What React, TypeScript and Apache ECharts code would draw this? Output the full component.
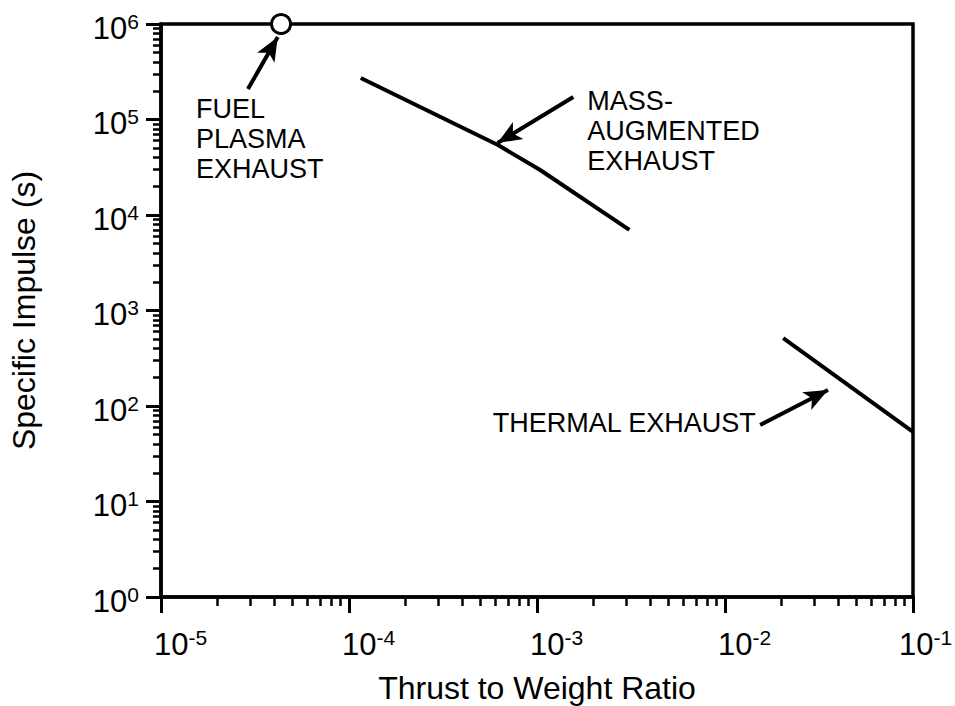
import React, { useEffect, useRef } from 'react';
import * as echarts from 'echarts';

const FONT = "'Liberation Sans', Arial, Helvetica, sans-serif";

// Axis ticks (major decades) and minor multipliers
const xMajorTicks = [1e-5, 1e-4, 1e-3, 1e-2, 1e-1];
const yMajorTicks = [1, 10, 100, 1e3, 1e4, 1e5, 1e6];
const minorMultipliers = [2, 3, 4, 5, 6, 7, 8, 9];

// Series values
const fuelPlasmaPoint = [[4.35e-5, 1e6]];
const massAugmentedLine = [
  [1.155e-4, 2.72e5],
  [6.2e-4, 5.4e4],
  [1.04e-3, 2.96e4],
  [3.1e-3, 7.0e3],
];
const thermalLine = [
  [0.0204, 515],
  [0.1, 53.5],
];

// Annotations (data coordinates)
const annotationTexts = ['FUEL\nPLASMA\nEXHAUST', 'MASS-\nAUGMENTED\nEXHAUST', 'THERMAL EXHAUST'];
const annotationAnchors = [
  [1.535e-5, 1.85e5],
  [1.853e-3, 2.24e5],
  [5.81e-4, 95.3],
];
const arrowTails = [
  [2.9e-5, 2.09e5],
  [1.56e-3, 1.72e5],
  [0.01538, 63.2],
];
const arrowHeads = [
  [4.18e-5, 7.3e5],
  [6.17e-4, 5.68e4],
  [0.0353, 147],
];

function minorValues(majors: number[]) {
  const out: number[] = [];
  for (let i = 0; i < majors.length - 1; i++) {
    for (const m of minorMultipliers) out.push(m * majors[i]);
  }
  return out;
}

const expOf = (v: number) => Math.round(Math.log10(v));

const richStyles = {
  b: { fontSize: 31, fontFamily: FONT, color: '#000', lineHeight: 30, padding: [8, 0, 0, 0] },
  s: { fontSize: 21, fontFamily: FONT, color: '#000', lineHeight: 20, padding: [0, 0, 6, 0] },
  pad: { width: 39 },
  padEnd: { width: 25 },
};

export default function App() {
  const ref = useRef<HTMLDivElement>(null);
  useEffect(() => {
    if (!ref.current) return;
    const chart = echarts.init(ref.current, undefined, { renderer: 'svg' });
    const grid = {
      left: 161, right: 42, top: 24, bottom: 109,
      containLabel: false, outerBoundsMode: 'none',
      show: true, borderColor: '#000', borderWidth: 3.5, backgroundColor: 'transparent',
    };
    const xMinor = minorValues(xMajorTicks);
    const yMinor = minorValues(yMajorTicks);
    const lastX = xMajorTicks[xMajorTicks.length - 1];
    const option: any = {
      animation: false,
      backgroundColor: '#fff',
      grid,
      xAxis: [
        {
          type: 'log', logBase: 10, min: 1e-5, max: 1e-1, position: 'bottom',
          name: 'Thrust to Weight Ratio', nameLocation: 'middle', nameGap: 75,
          nameTextStyle: { fontSize: 32, fontFamily: FONT, color: '#000' },
          axisLine: { show: true, lineStyle: { color: '#000', width: 3.5 } },
          axisTick: { show: true, length: 16, customValues: xMajorTicks, lineStyle: { color: '#000', width: 3 } },
          axisLabel: {
            show: true, margin: 28, customValues: xMajorTicks,
            formatter: (v: number) =>
              expOf(v) === expOf(lastX)
                ? `{padEnd|}{b|10}{s|${expOf(v)}}`
                : `{pad|}{b|10}{s|${expOf(v)}}`,
            rich: richStyles,
          },
          splitLine: { show: false },
        },
        {
          type: 'log', logBase: 10, min: 1e-5, max: 1e-1, position: 'bottom',
          axisLine: { show: false },
          axisTick: { show: true, length: 9, customValues: xMinor, lineStyle: { color: '#000', width: 2.5 } },
          axisLabel: { show: false },
          splitLine: { show: false },
        },
      ],
      yAxis: [
        {
          type: 'log', logBase: 10, min: 1, max: 1e6, position: 'left',
          name: 'Specific Impulse (s)', nameLocation: 'middle', nameGap: 121,
          nameTextStyle: { fontSize: 32, fontFamily: FONT, color: '#000' },
          axisLine: { show: true, lineStyle: { color: '#000', width: 3.5 } },
          axisTick: { show: true, length: 15, customValues: yMajorTicks, lineStyle: { color: '#000', width: 3 } },
          axisLabel: {
            show: true, margin: 22, customValues: yMajorTicks,
            formatter: (v: number) => `{b|10}{s|${expOf(v)}}`,
            rich: richStyles,
          },
          splitLine: { show: false },
        },
        {
          type: 'log', logBase: 10, min: 1, max: 1e6, position: 'left',
          axisLine: { show: false },
          axisTick: { show: true, length: 8, customValues: yMinor, lineStyle: { color: '#000', width: 2.5 } },
          axisLabel: { show: false },
          splitLine: { show: false },
        },
      ],
      series: [
        {
          type: 'line', name: 'Mass-augmented exhaust', data: massAugmentedLine,
          xAxisIndex: 0, yAxisIndex: 0, showSymbol: false, symbol: 'none',
          lineStyle: { color: '#000', width: 4 }, silent: true,
          markLine: {
            silent: true, animation: false,
            symbol: ['none', 'arrow'], symbolSize: [15, 24],
            lineStyle: { color: '#000', width: 4, type: 'solid' },
            label: { show: false },
            emphasis: { disabled: true },
            data: arrowTails.map((t, i) => [{ coord: t }, { coord: arrowHeads[i] }]),
          },
        },
        {
          type: 'line', name: 'Thermal exhaust', data: thermalLine,
          xAxisIndex: 0, yAxisIndex: 0, showSymbol: false, symbol: 'none',
          lineStyle: { color: '#000', width: 4 }, silent: true,
        },
        {
          type: 'scatter', name: 'Fuel plasma exhaust', data: fuelPlasmaPoint,
          xAxisIndex: 0, yAxisIndex: 0, symbol: 'circle', symbolSize: 19, clip: false, z: 10,
          itemStyle: { color: '#ffffff', opacity: 1, borderColor: '#000', borderWidth: 3 }, silent: true,
        },
      ],
    };
    chart.setOption(option);
    const graphic: any[] = annotationTexts.map((text, i) => {
      const p = chart.convertToPixel({ seriesIndex: 0 }, annotationAnchors[i]) as number[];
      return {
        type: 'text', x: p[0], y: p[1], silent: true,
        style: { text, fontSize: 27, fontFamily: FONT, fill: '#000', lineHeight: 30, align: 'left', verticalAlign: 'top' },
      };
    });
    chart.setOption({ graphic });
    return () => chart.dispose();
  }, []);
  return <div ref={ref} style={{ position: 'fixed', left: 0, top: 0, width: 955, height: 706, background: '#fff' }} />;
}
